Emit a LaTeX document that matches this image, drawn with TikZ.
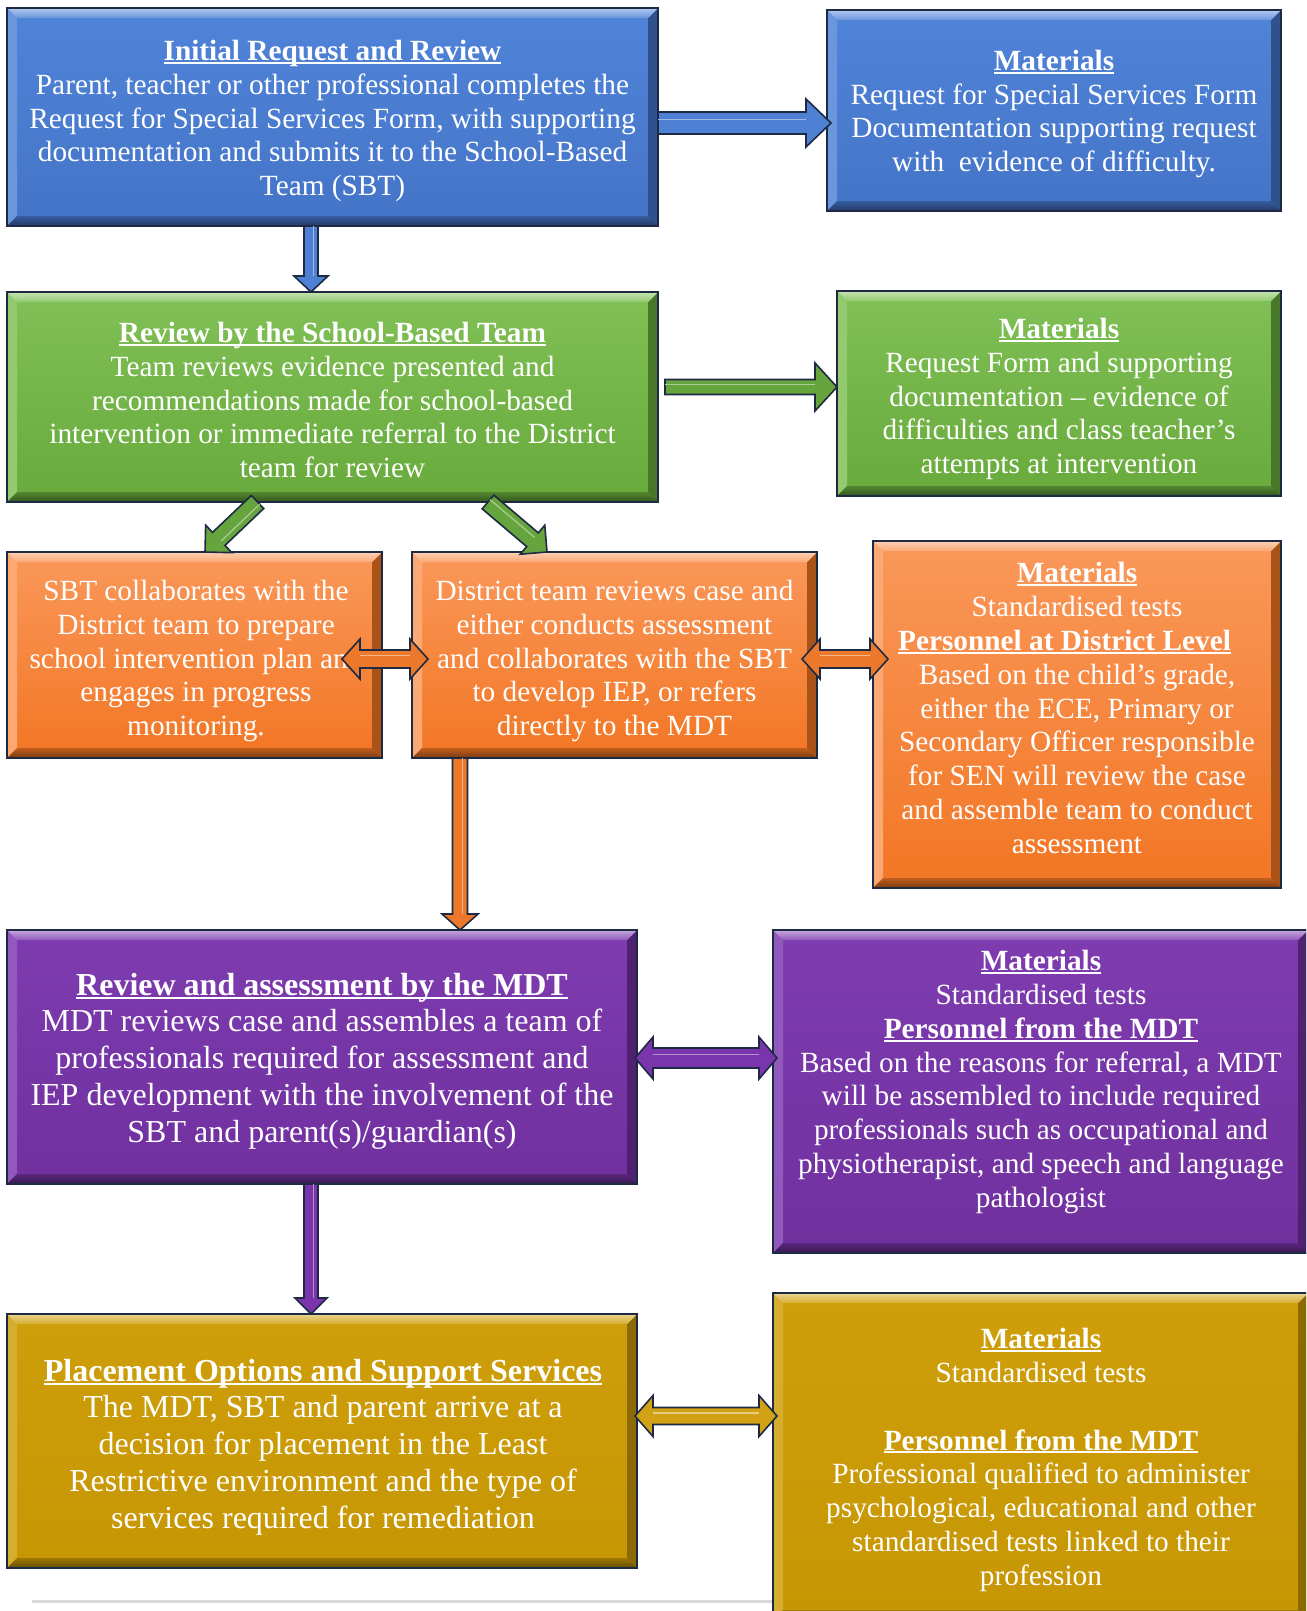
\documentclass[tikz,border=0pt]{standalone}
\usepackage{fontspec}
\setmainfont{Liberation Serif}
\usetikzlibrary{calc}

% palette
\definecolor{edge}{RGB}{30,42,68}
\definecolor{blueT}{RGB}{80,132,216}
\definecolor{blueB}{RGB}{68,116,200}
\definecolor{greenT}{RGB}{128,192,86}
\definecolor{greenB}{RGB}{104,170,60}
\definecolor{orangeT}{RGB}{250,152,90}
\definecolor{orangeB}{RGB}{242,118,36}
\definecolor{purpleT}{RGB}{126,60,176}
\definecolor{purpleB}{RGB}{112,48,158}
\definecolor{goldT}{RGB}{206,159,10}
\definecolor{goldB}{RGB}{198,150,4}
\definecolor{blueArrow}{RGB}{78,128,212}
\definecolor{greenArrow}{RGB}{102,164,62}
\definecolor{orangeArrow}{RGB}{236,120,44}
\definecolor{purpleArrow}{RGB}{122,52,172}
\definecolor{goldArrow}{RGB}{210,162,20}

% bold underlined heading
\newcommand\titleline[1]{{\bfseries\setbox0\hbox{#1}\rlap{\rule[-0.11em]{\wd0}{0.065em}}\box0}}
\newcommand\fsA{\fontsize{29.3}{33.8}\selectfont}
\newcommand\fsB{\fontsize{32}{36.8}\selectfont}

\tikzset{
  panelbox/.style={rectangle, inner sep=0pt, outer sep=0pt},
  txt/.style={text=white, align=center, inner sep=0pt, font=\fsA},
  bigtxt/.style={txt, font=\fsB},
  arrowline/.style={draw=edge, line width=1.6pt, line join=miter},
}

% bevelled panel: name, cx, cy, width, height, top colour, bottom colour
\newcommand\panel[7]{%
  \node[panelbox, minimum width=#4, minimum height=#5, top color=#6, bottom color=#7] (#1) at (#2,#3) {};
  \fill[#6!85!white] (#1.north west) -- ([shift={(10pt,-10pt)}]#1.north west)
     -- ([shift={(10pt,10pt)}]#1.south west) -- (#1.south west) -- cycle;
  \fill[#7!70!black] (#1.north east) -- ([shift={(-10pt,-10pt)}]#1.north east)
     -- ([shift={(-10pt,10pt)}]#1.south east) -- (#1.south east) -- cycle;
  \shade[top color=#6!45!white, bottom color=#6!85!white] (#1.north west) -- (#1.north east)
     -- ([shift={(-10pt,-10pt)}]#1.north east) -- ([shift={(10pt,-10pt)}]#1.north west) -- cycle;
  \shade[top color=#7!80!black, bottom color=#7!50!black] (#1.south west) -- (#1.south east)
     -- ([shift={(-10pt,10pt)}]#1.south east) -- ([shift={(10pt,10pt)}]#1.south west) -- cycle;
  \draw[edge, line width=1.6pt] (#1.north west) rectangle (#1.south east);
}

% block arrow: from, to, colour, half shaft, half head, head length
\newcommand\fatarrow[6]{%
  \path (#1) coordinate (as) (#2) coordinate (ae);
  \path ($(ae)!#6!(as)$) coordinate (ah);
  \filldraw[arrowline, fill=#3]
    ($(as)!#4!90:(ae)$) -- ($(ah)!#4!90:(ae)$) -- ($(ah)!#5!90:(ae)$) -- (ae)
    -- ($(ah)!#5!-90:(ae)$) -- ($(ah)!#4!-90:(ae)$) -- ($(as)!#4!-90:(ae)$) -- cycle;
  \draw[#3!55!white, line width=1.2pt] ($(as)!#4*0.35!90:(ae)$) -- ($(ah)!#4*0.35!90:(ae)$);
}

% double-headed block arrow
\newcommand\dblarrow[6]{%
  \path (#1) coordinate (as) (#2) coordinate (ae);
  \path ($(ae)!#6!(as)$) coordinate (ah) ($(as)!#6!(ae)$) coordinate (at);
  \filldraw[arrowline, fill=#3]
    (as) -- ($(at)!#5!90:(ae)$) -- ($(at)!#4!90:(ae)$) -- ($(ah)!#4!90:(ae)$)
    -- ($(ah)!#5!90:(ae)$) -- (ae) -- ($(ah)!#5!-90:(ae)$) -- ($(ah)!#4!-90:(ae)$)
    -- ($(at)!#4!-90:(ae)$) -- ($(at)!#5!-90:(ae)$) -- cycle;
  \draw[#3!55!white, line width=1.2pt] ($(at)!#4*0.35!90:(ae)$) -- ($(ah)!#4*0.35!90:(ae)$);
}

\begin{document}
\begin{tikzpicture}[x=1pt, y=-1pt]
\useasboundingbox (0,0) rectangle (1306,1611);
\clip (0,0) rectangle (1306,1611);

% footer rule
\draw[gray!30, line width=3pt] (32,1601) -- (775,1601);

% panels
\panel{b1}{332.5}{117}{651}{218}{blueT}{blueB}
\panel{m1}{1054}{110.5}{454}{201}{blueT}{blueB}
\panel{b2}{332.5}{397}{651}{210}{greenT}{greenB}
\panel{m2}{1059}{393.5}{444}{205}{greenT}{greenB}
\panel{o1}{194.5}{655}{375}{206}{orangeT}{orangeB}
\panel{o2}{614.5}{655}{405}{206}{orangeT}{orangeB}
\panel{m3}{1077}{714.5}{408}{347}{orangeT}{orangeB}
\panel{b4}{322}{1057}{630}{254}{purpleT}{purpleB}
\panel{m4}{1040.5}{1091.5}{535}{323}{purpleT}{purpleB}
\panel{b5}{322}{1441}{630}{254}{goldT}{goldB}
\panel{m5}{1040.5}{1456.5}{535}{327}{goldT}{goldB}

% texts
\node[txt] (b1t) at (332.5,121) {\titleline{Initial Request and Review}\\
  Parent, teacher or other professional completes the\\
  Request for Special Services Form, with supporting\\
  documentation and submits it to the School-Based\\
  Team (SBT)};
\node[txt] (m1t) at (1054,114) {\titleline{Materials}\\
  Request for Special Services Form\\
  Documentation supporting request\\
  with\ \ evidence of difficulty.};
\node[txt] (b2t) at (332.5,400) {\titleline{Review by the School-Based Team}\\
  Team reviews evidence presented and\\
  recommendations made for school-based\\
  intervention or immediate referral to the District\\
  team for review};
\node[txt] (m2t) at (1059,399) {\titleline{Materials}\\
  Request Form and supporting\\
  documentation – evidence of\\
  difficulties and class teacher’s\\
  attempts at intervention};
\node[txt] (o1t) at (196,661) {SBT collaborates with the\\
  District team to prepare\\
  school intervention plan and\\
  engages in progress\\
  monitoring.};
\node[txt] (o2t) at (614.5,661) {District team reviews case and\\
  either conducts assessment\\
  and collaborates with the SBT\\
  to develop IEP, or refers\\
  directly to the MDT};
\node[txt] (m3t) at (1077,708) {\titleline{Materials}\\
  Standardised tests\\
  \titleline{Personnel at District Level}\rule{25pt}{0pt}\\
  Based on the child’s grade,\\
  either the ECE, Primary or\\
  Secondary Officer responsible\\
  for SEN will review the case\\
  and assemble team to conduct\\
  assessment};
\node[bigtxt] (b4t) at (322,1061) {\titleline{Review and assessment by the MDT}\\
  MDT reviews case and assembles a team of\\
  professionals required for assessment and\\
  IEP development with the involvement of the\\
  SBT and parent(s)/guardian(s)};
\node[txt] (m4t) at (1041,1082) {\titleline{Materials}\\
  Standardised tests\\
  \titleline{Personnel from the MDT}\\
  Based on the reasons for referral, a MDT\\
  will be assembled to include required\\
  professionals such as occupational and\\
  physiotherapist, and speech and language\\
  pathologist};
\node[bigtxt] (b5t) at (323,1447) {\titleline{Placement Options and Support Services}\\
  The MDT, SBT and parent arrive at a\\
  decision for placement in the Least\\
  Restrictive environment and the type of\\
  services required for remediation};
\node[txt] (m5t) at (1041,1460) {\titleline{Materials}\\
  Standardised tests\\
  \mbox{}\\
  \titleline{Personnel from the MDT}\\
  Professional qualified to administer\\
  psychological, educational and other\\
  standardised tests linked to their\\
  profession};

% connectors
\fatarrow{[yshift=-6pt]b1.east}{[shift={(4pt,-12.5pt)}]m1.west}{blueArrow}{11pt}{24pt}{25pt}
\fatarrow{[xshift=-21.5pt]b1.south}{[xshift=-21.5pt]b2.north}{blueArrow}{7pt}{17pt}{16pt}
\fatarrow{[shift={(7pt,10pt)}]b2.east}{[yshift=6.5pt]m2.west}{greenArrow}{7.5pt}{24pt}{22pt}
\fatarrow{[xshift=-75pt]b2.south}{[xshift=10.5pt]o1.north}{greenArrow}{9pt}{19pt}{19pt}
\fatarrow{[xshift=155.5pt]b2.south}{[xshift=-67.5pt]o2.north}{greenArrow}{9pt}{19pt}{19pt}
\dblarrow{[shift={(-40pt,-4pt)}]o1.east}{[shift={(16pt,-4pt)}]o2.west}{orangeArrow}{9pt}{20pt}{18pt}
\dblarrow{[shift={(-15pt,-4pt)}]o2.east}{[shift={(15pt,55.5pt)}]m3.west}{orangeArrow}{9pt}{20pt}{18pt}
\fatarrow{[xshift=-154.5pt]o2.south}{[xshift=138pt]b4.north}{orangeArrow}{7.5pt}{18pt}{16pt}
\dblarrow{[shift={(-2pt,-1pt)}]b4.east}{[shift={(4pt,33.5pt)}]m4.west}{purpleArrow}{10pt}{21pt}{18pt}
\fatarrow{[xshift=-11pt]b4.south}{[xshift=-11pt]b5.north}{purpleArrow}{7pt}{16pt}{16pt}
\dblarrow{[shift={(-2pt,25pt)}]b5.east}{[shift={(4pt,40.5pt)}]m5.west}{goldArrow}{8.5pt}{20.5pt}{18pt}
\end{tikzpicture}
\end{document}
